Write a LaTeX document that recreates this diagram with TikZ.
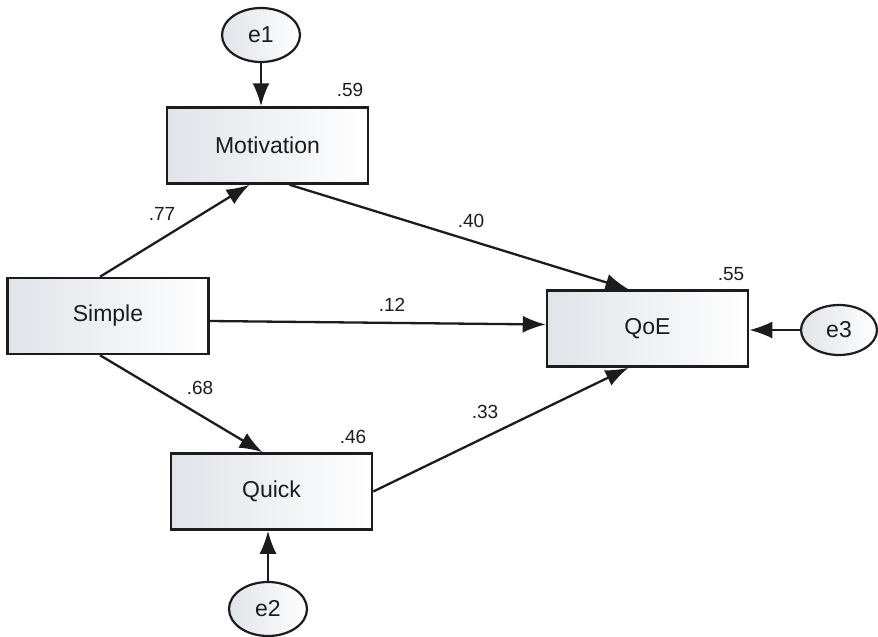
\documentclass[tikz,border=0pt]{standalone}
\usepackage{fontspec}
\setmainfont{Liberation Sans}
\usetikzlibrary{arrows.meta,shapes.geometric}
\definecolor{boxgray}{RGB}{224,227,232}
\definecolor{inkgray}{RGB}{28,28,28}

\begin{document}
\begin{tikzpicture}[x=1pt, y=-1pt,
    var/.style={draw=inkgray, line width=2.5pt, rectangle, minimum width=201pt,
                minimum height=76pt, inner sep=0pt, left color=boxgray, right color=white,
                text=inkgray, font=\fontsize{23}{27}\selectfont},
    err/.style={draw=inkgray, line width=2.2pt, ellipse, minimum width=78pt,
                minimum height=54pt, inner sep=0pt, left color=boxgray, right color=white,
                text=inkgray, font=\fontsize{23}{27}\selectfont},
    reg/.style={draw=inkgray, line width=2.3pt, -{Latex[length=23pt,width=17pt]}},
    est/.style={text=inkgray, inner sep=0pt, font=\fontsize{19}{21}\selectfont}]

    \useasboundingbox (0,0) rectangle (878,637);

    % observed variables
    \node[var] (Motivation) at (267.5,145.5) {Motivation};
    \node[var] (Simple) at (108,316) {Simple};
    \node[var] (Quick) at (271.5,491.5) {Quick};
    \node[var] (QoE) at (647.5,328.5) {QoE};

    % error terms
    \node[err] (e1) at (261,35) {e1};
    \node[err] (e2) at (268,609) {e2};
    \node[err, minimum width=76pt, minimum height=50pt] (e3) at (839,330) {e3};

    % paths
    \draw[reg] ([xshift=-8pt]Simple.north) -- ([xshift=-18pt]Motivation.south);
    \draw[reg] ([xshift=22pt]Motivation.south) -- ([xshift=-19pt]QoE.north);
    \draw[reg] ([yshift=-5pt]Simple.east) -- ([yshift=4pt]QoE.west);
    \draw[reg] ([xshift=-8pt]Simple.south) -- ([xshift=-9pt]Quick.north);
    \draw[reg] (Quick.east) -- ([xshift=-19pt]QoE.south);

    \draw[reg] (e1.south) -- (e1.south |- Motivation.north);
    \draw[reg] (e2.north) -- (e2.north |- Quick.south);
    \draw[reg] (e3.west) -- (e3.west -| QoE.east);

    % estimates
    \foreach \x/\y/\val/\id in {350/90/.59/rMot, 731/274/.55/rQoE, 353/437/.46/rQui,
                                162/214/.77/bSM, 471/221/.40/bMQ, 392/305/.12/bSQ,
                                200/388/.68/bSq, 485/412/.33/bqQ}
        \node[est] (\id) at (\x,\y) {\val};

\end{tikzpicture}
\end{document}
